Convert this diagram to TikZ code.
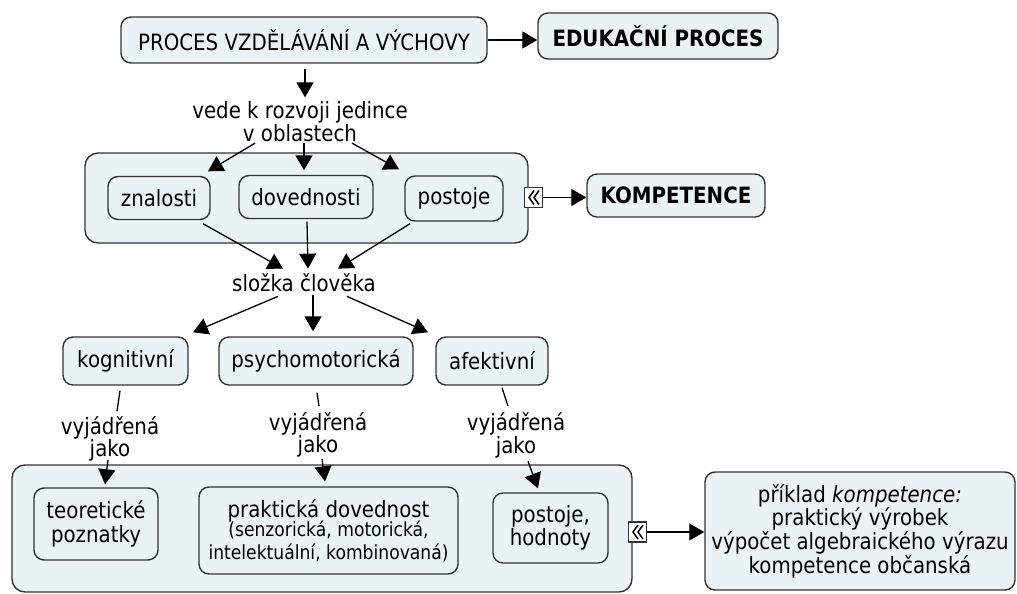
\documentclass[tikz,border=0pt]{standalone}
\usepackage{fontspec}
\setmainfont[FakeStretch=0.88]{DejaVu Sans}
\usetikzlibrary{arrows.meta,calc}

\definecolor{edge}{HTML}{333333}
\definecolor{boxfill}{HTML}{EBF2F5}

\tikzset{
  base/.style={font=\fontsize{22.5}{22.5}\selectfont, text=black},
  concept/.style={base, draw=edge, fill=boxfill, line width=1.4pt,
    rounded corners=10pt, align=center, inner sep=0pt},
  group/.style={draw=edge, fill=boxfill, line width=1.4pt,
    rounded corners=13pt, inner sep=0pt},
  phrase/.style={base, align=center, inner sep=0pt},
  link/.style={line width=1.3pt, draw=black,
    -{Triangle[length=15pt,width=17pt]}},
  tie/.style={line width=1.3pt, draw=black},
  marker/.style={draw=edge, fill=white, line width=1.1pt,
    minimum width=18pt, minimum height=20pt, inner sep=0pt},
  chev/.style={line width=1.5pt, draw=black}
}

\begin{document}
\begin{tikzpicture}[x=1pt,y=-1pt]
\useasboundingbox (0,0) rectangle (1017,594);

% grouping frames
\node[group, minimum width=443pt, minimum height=90pt] (grpA) at (306.5,198) {};
\node[group, minimum width=620pt, minimum height=127pt] (grpB) at (322,528.5) {};

% concepts
\node[concept, minimum width=366pt, minimum height=46pt] (top) at (304,40) {PROCES VZDĚLÁVÁNÍ A VÝCHOVY};
\node[concept, minimum width=240pt, minimum height=46pt, font=\fontsize{22.5}{22.5}\selectfont\bfseries] (edu) at (658,36) {EDUKAČNÍ PROCES};

\node[phrase] (vede) at (300,121.5) {vede k rozvoji jedince\\v oblastech};

\node[concept, minimum width=102pt, minimum height=43pt] (zn) at (159,198) {znalosti};
\node[concept, minimum width=134pt, minimum height=43pt] (dov) at (306,197) {dovednosti};
\node[concept, minimum width=98pt, minimum height=45pt] (pos) at (454,198.5) {postoje};

\node[concept, minimum width=178pt, minimum height=43pt, font=\fontsize{22.5}{22.5}\selectfont\bfseries] (komp) at (676,195.5) {KOMPETENCE};

\node[phrase] (skl) at (304,283) {složka člověka};

\node[concept, minimum width=125pt, minimum height=48pt] (kog) at (125.5,361) {kognitivní};
\node[concept, minimum width=194pt, minimum height=48pt] (psy) at (316,361) {psychomotorická};
\node[concept, minimum width=112pt, minimum height=48pt] (afe) at (492,361) {afektivní};

\node[phrase] (vyjA) at (110,439) {vyjádřená\\jako};
\node[phrase] (vyjB) at (318,435) {vyjádřená\\jako};
\node[phrase] (vyjC) at (516,435.5) {vyjádřená\\jako};

\node[concept, minimum width=124pt, minimum height=72pt, font=\fontsize{22.5}{24}\selectfont] (teo) at (96,524) {teoretické\\poznatky};
\node[concept, minimum width=259pt, minimum height=87pt] (prakt) at (328.5,530.5)
  {praktická dovednost\\[-3pt]{\fontsize{19.5}{19.5}\selectfont (senzorická, motorická,}\\{\fontsize{19.5}{19.5}\selectfont intelektuální, kombinovaná)}};
\node[concept, minimum width=115pt, minimum height=70pt, font=\fontsize{22.5}{23}\selectfont] (posB) at (550.5,528) {postoje,\\hodnoty};

\node[concept, minimum width=310pt, minimum height=118pt] (ex) at (860,531)
  {příklad \textit{kompetence:}\\praktický výrobek\\výpočet algebraického výrazu\\kompetence občanská};

% collapse markers on the frames
\node[marker] (mA) at (533.5,197.5) {};
\node[marker] (mB) at (637.5,532) {};
\foreach \m in {mA,mB}{
  \draw[chev] ($(\m.center)+(0.5,-7)$) -- ($(\m.center)+(-4.5,0)$) -- ($(\m.center)+(0.5,7)$);
  \draw[chev] ($(\m.center)+(5.5,-7)$) -- ($(\m.center)+(0.5,0)$) -- ($(\m.center)+(5.5,7)$);
}

% connectors
\draw[link] (top.east) -- (top.east -| edu.west);
\draw[link] ($(top.south)+(1,5)$) -- ($(vede.north)+(5,-4)$);

\draw[link] ($(vede.south)+(-45,1.5)$) -- ($(zn.north)+(49,-4.5)$);
\draw[link] ($(vede.south)+(4,1.5)$) -- ($(dov.north)+(-2,-4.5)$);
\draw[link] ($(vede.south)+(52,1.5)$) -- ($(pos.north)+(-55,-6)$);

\draw[link] ($(zn.south)+(44,3.5)$) -- ($(skl.north)+(-21,-5)$);
\draw[link] ($(dov.south)+(1,2.5)$) -- ($(skl.north)+(4,-5)$);
\draw[link] ($(pos.south)+(-44,2)$) -- ($(skl.north)+(34,-5)$);

\draw[link] (mA.east) -- (mA.east -| komp.west);

\draw[link] ($(skl.south)+(-26,4)$) -- ($(kog.north)+(67.5,-4)$);
\draw[link] ($(skl.south)+(9,3)$) -- ($(psy.north)+(-3,-5)$);
\draw[link] ($(skl.south)+(43,4)$) -- ($(afe.north)+(-64,-4)$);

\draw[tie] ($(kog.south)+(-5.5,5)$) -- ($(vyjA.north)+(7,-5)$);
\draw[tie] ($(psy.south)+(1,7)$) -- ($(vyjB.north)+(1,-6)$);
\draw[tie] ($(afe.south)+(10,2)$) -- ($(vyjC.north)+(-8,-6.5)$);

\draw[link] ($(vyjA.south)+(-2,-2)$) -- ($(teo.north)+(9,-3)$);
\draw[link] ($(vyjB.south)+(4,1)$) -- ($(prakt.north)+(-3.5,-5)$);
\draw[link] ($(vyjC.south)+(12,3)$) -- ($(posB.north)+(-12.5,-4)$);

\draw[link] (mB.east) -- (mB.east -| ex.west);
\end{tikzpicture}
\end{document}
